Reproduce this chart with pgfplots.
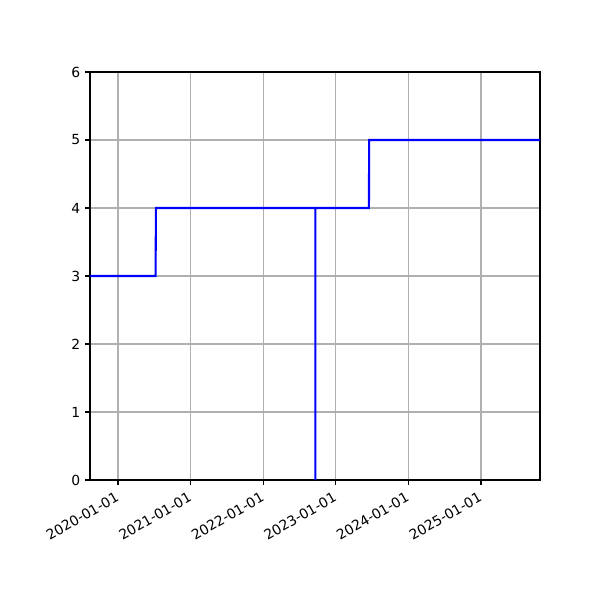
\documentclass[border=0pt]{standalone}
\usepackage{pgfplots}
\pgfplotsset{compat=1.18}
\usepackage{fontspec}
\setmainfont{DejaVu Sans}
\definecolor{gridgray}{HTML}{B0B0B0}

\begin{document}
\begin{tikzpicture}
% x is days since 2020-01-01
\begin{axis}[
    at={(0,0)}, anchor=south west,
    scale only axis,
    width=324pt, height=293.76pt,
    xmin=-141, xmax=2124,
    ymin=0, ymax=6,
    xtick={0,366,731,1096,1461,1827},
    xticklabels={2020-01-01,2021-01-01,2022-01-01,2023-01-01,2024-01-01,2025-01-01},
    ytick={0,1,2,3,4,5,6},
    xmajorgrids=true, ymajorgrids=true,
    grid style={gridgray, line width=0.8pt},
    axis line style={line width=0.8pt},
    tick align=outside,
    xtick pos=left, ytick pos=left,
    major tick length=3.5pt,
    every tick/.style={black, line width=0.8pt},
    tick label style={font=\fontsize{10}{12}\selectfont},
    xticklabel style={xshift=-2pt, yshift=-3pt, rotate=30, anchor=north east, inner sep=1pt},
    /pgf/number format/assume math mode=true,
]
\addplot[blue, line width=1.5pt, mark=none] coordinates {
    (-141,3) (189,3) (191,4) (993,4) (993,0) (993,4) (1263,4) (1264,5) (2124,5)
};
\end{axis}
\path[use as bounding box] (-64.8pt,-86.4pt) rectangle (367.2pt,345.6pt);
\end{tikzpicture}
\end{document}
